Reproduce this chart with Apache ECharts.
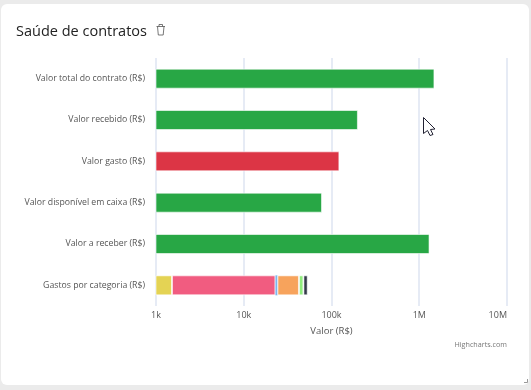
<!DOCTYPE html>
<html>
<head>
<meta charset="utf-8">
<script src="https://cdn.jsdelivr.net/npm/echarts@6/dist/echarts.min.js"></script>
<style>
  html, body { margin: 0; padding: 0; background: #ebebeb; overflow: hidden; }
  #card { position: absolute; left: 1px; top: 4px; width: 528px; height: 381px; background: #fff; border-radius: 6px; }
  #chart { position: absolute; left: 0; top: 0; width: 531px; height: 390px; }
</style>
</head>
<body>
<div id="card"></div>
<div id="chart"></div>
<script>
const categories = [
  'Valor total do contrato (R$)',
  'Valor recebido (R$)',
  'Valor gasto (R$)',
  'Valor disponível em caixa (R$)',
  'Valor a receber (R$)',
  'Gastos por categoria (R$)'
];
// first five rows
const mainValues = [1490000, 200000, 123000, 78000, 1310000];
const mainColors = ['#28a745', '#28a745', '#dc3545', '#28a745', '#28a745'];
// last row, stacked segments
const segmentValues = [1520, 21440, 1250, 18350, 5300, 5700];
const segmentColors = ['#e4d354', '#f15c80', '#7cb5ec', '#f7a35c', '#90ed7d', '#343a4a'];
const tickLabels = { 1000: '1k', 10000: '10k', 100000: '100k', 1000000: '1M', 10000000: '10M' };

const font = '"Open Sans", "Noto Sans", sans-serif';
const barBorder = { borderColor: 'rgba(255,255,255,0.6)', borderWidth: 1 };

// the first stacked segment has to sit in the first series, a stack on log starting from '-' gets dropped
const series = [{
  type: 'bar',
  stack: 'total',
  barWidth: 20,
  data: mainValues.map((v, i) => ({ value: v, itemStyle: { color: mainColors[i], ...barBorder } }))
    .concat([{ value: segmentValues[0], itemStyle: { color: segmentColors[0], ...barBorder } }])
}];
segmentValues.slice(1).forEach((v, i) => {
  series.push({
    type: 'bar',
    stack: 'total',
    barWidth: 20,
    // the blue sliver is too thin to keep a border
    itemStyle: { color: segmentColors[i + 1], ...(v < 2000 ? {} : barBorder) },
    data: mainValues.map(() => '-').concat([v])
  });
});

const chartInstance = echarts.init(document.getElementById('chart'), null, { renderer: 'canvas' });
chartInstance.setOption({
  animation: false,
  title: {
    text: 'Saúde de contratos',
    left: 11,
    top: 19,
    textStyle: { fontFamily: font, fontSize: 14.5, fontWeight: 500, color: '#222' }
  },
  grid: { left: 156, right: 24, top: 58, bottom: 84 },
  xAxis: {
    type: 'log',
    logBase: 10,
    min: 1000,
    max: 10000000,
    name: 'Valor (R$)',
    nameLocation: 'middle',
    nameGap: 20,
    nameTextStyle: { fontFamily: font, fontSize: 9.5, color: '#555' },
    axisLine: { show: false },
    axisTick: { show: false },
    minorTick: { show: false },
    minorSplitLine: { show: false },
    splitLine: { show: true, lineStyle: { color: '#e6ebf5', width: 2 } },
    axisLabel: {
      fontFamily: font,
      fontSize: 9,
      color: '#555',
      margin: 5,
      alignMaxLabel: 'right',
      formatter: (v) => tickLabels[Math.round(v)] || ''
    }
  },
  yAxis: {
    type: 'category',
    inverse: true,
    data: categories,
    axisLine: { show: false },
    axisTick: { show: false },
    axisLabel: { fontFamily: font, fontSize: 8.72, color: '#555', margin: 11 }
  },
  series: series,
  graphic: [
    {
      type: 'text',
      right: 24,
      top: 341,
      style: { text: 'Highcharts.com', fontFamily: font, fontSize: 7.2, fill: '#777' }
    },
    // trash icon next to the title
    {
      type: 'group',
      left: 154,
      top: 22,
      children: [
        { type: 'polyline', shape: { points: [[0, 2.5], [8.5, 2.5]] }, style: { stroke: '#555', lineWidth: 0.8, fill: null } },
        { type: 'polyline', shape: { points: [[2.5, 2.5], [2.5, 0.5], [6, 0.5], [6, 2.5]] }, style: { stroke: '#555', lineWidth: 0.8, fill: null } },
        { type: 'polyline', shape: { points: [[1, 2.5], [1.8, 11], [6.7, 11], [7.5, 2.5]] }, style: { stroke: '#555', lineWidth: 0.8, fill: null } }
      ]
    },
    // mouse cursor caught in the screenshot
    {
      type: 'polygon',
      shape: { points: [[423.5, 117.5], [423.5, 133.5], [427.5, 130.5], [430, 135.5], [433, 134.5], [430.5, 129.5], [435, 129]] },
      style: { fill: '#fff', stroke: '#223', lineWidth: 1 }
    },
    // resize handle
    { type: 'polyline', shape: { points: [[524, 382.5], [527.5, 382.5], [527.5, 379]] }, style: { stroke: '#999', lineWidth: 1, fill: null } }
  ]
});
</script>
</body>
</html>
